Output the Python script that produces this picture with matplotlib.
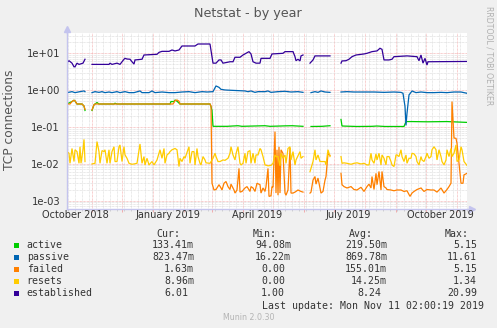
import numpy as np
import pandas as pd
import matplotlib
matplotlib.use('Agg')
import matplotlib.pyplot as plt
import matplotlib.dates as mdates
from matplotlib.ticker import LogLocator, FuncFormatter, NullFormatter
from matplotlib.patches import Rectangle

nan = np.nan

# time axis: 400 days ending Mon Nov 11 2019
start = pd.Timestamp('2018-10-07 12:00')
span_days = 400

# (day offset, value) pairs, nan = gap in data
active = [(0, .42), (5, .49), (7, .53), (8, .51), (10, .42), (15, .42), (17, .37), (18, .28),
          (21, nan), (25, .28), (27, .40), (28, .42), (30, .46), (32, .42), (47, .42), (48, .44),
          (50, .42), (103, .42), (104, .49), (107, .49), (108, .54), (110, .50), (113, .42),
          (143, .42), (144, .36), (145, .28), (146, .104), (160, .104), (171, .108), (175, .104),
          (198, .108), (203, .104), (218, .107), (225, .108), (236, .104), (239, nan), (244, .103),
          (255, .104), (263, .108), (267, nan), (274, .16), (275, .106), (290, .103), (305, .104),
          (310, .106), (318, .103), (337, .103), (339, .14), (345, .14), (360, .138), (380, .14),
          (400, .133)]

passive = [(0, .855), (5, .91), (8, .855), (13, .91), (17, .95), (18, .91), (21, nan), (25, .855),
           (28, .91), (32, .87), (35, .91), (38, .855), (42, .89), (45, .855), (50, .91), (53, .855),
           (58, .91), (62, .855), (67, .855), (73, .95), (75, .855), (82, .855), (85, .95), (88, .855),
           (95, .89), (102, .855), (108, .855), (115, .89), (122, .91), (128, .855), (135, .91),
           (140, .89), (146, .91), (149, 1.30), (152, 1.19), (154, 1.05), (158, 1.01), (164, .99),
           (171, .97), (178, .95), (181, .91), (184, .95), (188, .87), (191, .91), (198, .91),
           (201, .95), (204, .87), (211, .91), (218, .93), (224, .89), (231, .91), (236, .87),
           (239, nan), (244, .855), (248, .91), (251, .87), (254, .95), (258, .89), (263, .87),
           (267, nan), (274, .89), (280, .91), (287, .89), (294, .89), (300, .89), (307, .89),
           (317, .87), (327, .89), (334, .87), (336, .82), (338, .36), (339, .11), (340, .235),
           (342, .74), (344, .87), (345, .95), (349, .855), (354, .89), (360, .855), (367, .855),
           (374, .87), (380, .855), (387, .89), (394, .89), (400, .82)]

failed = [(0, .42), (3, .42), (5, .49), (7, .53), (8, .51), (10, .42), (15, .42), (17, .37), (18, .30),
          (21, nan), (25, .29), (27, .40), (28, .42), (106, .42), (107, .46), (108, .52), (110, .54),
          (112, .50), (113, .42), (143, .42), (144, .37), (145, 2.96e-3), (147, 1.94e-3),
          (149, 2.0e-3), (152, 2.7e-3), (154, 2.2e-3), (155, 1.94e-3), (157, 2.96e-3), (159, 3.3e-3),
          (161, 2.4e-3), (163, 2.0e-3), (164, 2.8e-3), (167, 1.94e-3), (168, 1.6e-3), (170, 1.94e-3),
          (172, 7.5e-3), (173, 1.7e-3), (175, 1.77e-3), (178, 2.2e-3), (180, 2.4e-3), (183, 1.77e-3),
          (184, 2.4e-3), (186, 2.2e-3), (188, 1.77e-3), (190, 2.96e-3), (193, 2.7e-3), (194, 1.6e-3),
          (196, 2.2e-3), (198, 1.77e-3), (199, 2.4e-3), (201, 7.5e-3), (202, 1.3e-3), (204, 1.35e-3),
          (205, 2.4e-3), (206, 2.3e-3), (208, .075), (209, 1.6e-3), (210, .024), (211, 1.4e-3),
          (212, .029), (213, 1.6e-3), (214, .024), (216, .019), (218, 1.6e-3), (219, 1.4e-3),
          (221, 1.94e-3), (223, .027), (224, 1.6e-3), (226, 1.6e-3), (228, 1.7e-3), (231, 1.94e-3),
          (234, 1.77e-3), (236, 1.7e-3), (239, nan), (243, 1.6e-3), (244, 1.7e-3), (246, 3.6e-3),
          (248, 4.5e-3), (249, 2.8e-3), (251, 4.1e-3), (253, 2.2e-3), (254, 1.6e-3), (256, 1.77e-3),
          (258, 3.6e-3), (259, 4.5e-3), (261, .019), (263, .017), (267, nan), (274, 5.5e-3),
          (275, 2.7e-3), (277, 2.4e-3), (280, 2.2e-3), (284, 2.4e-3), (287, 2.0e-3), (290, 1.94e-3),
          (294, 2.3e-3), (297, 1.77e-3), (300, 2.4e-3), (302, 2.8e-3), (304, 2.2e-3), (305, 4.5e-3),
          (307, 2.0e-3), (309, 5.5e-3), (310, 2.7e-3), (312, 6.2e-3), (314, 1.94e-3), (315, 6.2e-3),
          (317, 2.4e-3), (319, 2.2e-3), (320, 2.0e-3), (324, 1.94e-3), (327, 1.85e-3), (330, 1.94e-3),
          (334, 1.94e-3), (337, 1.77e-3), (340, 1.85e-3), (343, 1.3e-3), (345, 1.6e-3), (347, 1.77e-3),
          (350, 2.0e-3), (354, 2.2e-3), (357, 1.77e-3), (360, 2.0e-3), (364, 1.94e-3), (367, 1.94e-3),
          (370, 1.7e-3), (374, 2.2e-3), (377, 1.6e-3), (380, 2.0e-3), (382, 2.4e-3), (384, 2.96e-3),
          (385, .49), (387, .05), (389, .049), (390, .036), (392, .0104), (394, 2.96e-3),
          (396, 2.96e-3), (397, 5.0e-3), (400, 5.5e-3)]

resets = [(0, .0214), (2, .0193), (3, .0103), (5, .026), (7, .0115), (8, .024), (10, .0214), (12, .0103),
          (13, .029), (14, .0103), (16, .024), (17, .046), (18, .0115), (21, nan), (25, .0099),
          (28, .0103), (30, .040), (32, .0214), (33, .0103), (35, .0228), (37, .0214), (38, .024),
          (40, .0103), (42, .024), (43, .0103), (45, .0214), (47, .029), (48, .0115), (50, .0115),
          (52, .029), (53, .0325), (55, .0115), (57, .029), (58, .0174), (60, .0141), (62, .0103),
          (65, .0097), (67, .0099), (70, .0103), (73, .0345), (75, .0103), (77, .0157), (78, .0093),
          (80, .0141), (82, .0093), (85, .0115), (87, .0093), (90, .0127), (93, .024), (95, .0141),
          (97, .026), (98, .0103), (100, .0174), (102, .0193), (103, .0214), (105, .024), (108, .026),
          (110, .024), (112, .0084), (113, .0141), (115, .0115), (117, .0157), (118, .0141),
          (122, .029), (123, .0103), (125, .0214), (127, .0214), (128, .0093), (130, .026),
          (131, .0157), (133, .0103), (134, .0093), (136, .0157), (138, .0127), (139, .0106),
          (143, .0103), (146, .0141), (148, .0193), (149, .0157), (151, .0115), (153, .0115),
          (156, .0127), (158, .0124), (161, .0141), (163, .0193), (164, .029), (166, .0174),
          (168, .0127), (169, .0186), (171, .029), (173, .0103), (174, .0093), (176, .0103),
          (178, .0193), (179, .0103), (181, .0214), (183, .0228), (184, .0103), (186, .0193),
          (188, .0103), (189, .0174), (191, .0174), (193, .026), (194, .024), (196, .0157),
          (198, .0093), (201, .0088), (204, .0090), (206, .0103), (208, .0174), (209, .0157),
          (211, .0157), (213, .0088), (214, .0193), (216, .0141), (218, .0174), (219, .0103),
          (221, .026), (223, .029), (224, .0127), (226, .0214), (228, .0093), (229, .0127),
          (233, .0214), (234, .0141), (236, .0157), (239, nan), (243, .0061), (244, .0075),
          (246, .0115), (248, .024), (249, .0127), (251, .0174), (253, .0115), (255, .0115),
          (258, .0115), (259, .0093), (261, .024), (263, .0157), (267, nan), (274, .0157),
          (275, .0103), (277, .0106), (280, .0103), (284, .0097), (287, .0103), (290, .0106),
          (294, .0099), (297, .0103), (300, .0093), (302, .0093), (304, .0193), (305, .0127),
          (307, .0103), (309, .0186), (310, .0127), (312, .0193), (314, .0093), (315, .0174),
          (317, .0141), (319, .0093), (320, .0157), (322, .0157), (324, .0115), (325, .0093),
          (327, .0084), (329, .0174), (330, .0174), (332, .0157), (334, .024), (335, .0157),
          (337, .0115), (339, .0174), (340, .0103), (342, .0141), (344, .0141), (345, .0193),
          (347, .0186), (349, .0157), (350, .0115), (352, .0093), (354, .0157), (355, .0127),
          (357, .0115), (359, .0157), (360, .0193), (362, .0141), (364, .0157), (365, .024),
          (367, .029), (369, .024), (370, .0127), (372, .024), (374, .0157), (375, .0115),
          (377, .0093), (379, .0127), (380, .024), (382, .0157), (384, .026), (385, .0157),
          (387, .0193), (389, .0325), (390, .0115), (392, .0127), (394, .029), (395, .024),
          (397, .0115), (400, .0090)]

established = [(0, 5.6), (2, 6.3), (5, 5.4), (7, 4.3), (8, 4.3), (10, 5.4), (12, 5.0), (16, 5.4),
               (18, 6.9), (21, nan), (25, 5.0), (42, 5.0), (43, 5.4), (45, 5.0), (50, 5.4), (53, 5.0),
               (57, 6.9), (58, 7.3), (60, 7.0), (63, 6.9), (65, 5.9), (67, 5.1), (68, 6.6), (75, 6.9),
               (77, 9.0), (90, 9.4), (92, 10.6), (95, 11.3), (102, 11.3), (105, 12.3), (108, 11.6),
               (112, 12.3), (115, 15.8), (128, 15.8), (130, 17.2), (131, 17.9), (143, 17.9),
               (146, 5.4), (149, 5.4), (152, 6.6), (154, 6.6), (156, 5.4), (159, 5.6), (163, 5.9),
               (166, 5.9), (168, 7.8), (173, 7.8), (176, 9.0), (179, 10.0), (182, 11.1), (184, 9.6),
               (186, 5.9), (189, 5.4), (193, 5.4), (194, 7.3), (203, 7.3), (205, 9.6), (216, 10.0),
               (218, 11.1), (226, 11.1), (228, 8.1), (229, 6.3), (231, 6.9), (233, 6.2), (234, 8.5),
               (236, 9.0), (239, nan), (243, 5.4), (246, 6.6), (248, 8.5), (263, 8.5), (267, nan),
               (274, 5.4), (275, 6.2), (279, 6.3), (282, 6.9), (285, 8.1), (289, 9.0), (297, 9.6),
               (300, 10.0), (305, 11.1), (310, 11.6), (313, 13.7), (315, 12.8), (317, 6.6), (322, 6.6),
               (325, 6.9), (327, 8.1), (340, 8.5), (350, 8.1), (352, 6.3), (354, 9.0), (356, 5.4),
               (358, 7.3), (360, 4.8), (361, 5.9), (400, 6.01)]

names = ['active', 'passive', 'failed', 'resets', 'established']
colors = ['#00CC00', '#0066B3', '#FF8000', '#FFCC00', '#330099']
cur = ['133.41m', '823.47m', '1.63m', '8.96m', '6.01']
mins = ['94.08m', '16.22m', '0.00', '0.00', '1.00']
avgs = ['219.50m', '869.78m', '155.01m', '14.25m', '8.24']
maxs = ['5.15', '11.61', '5.15', '1.34', '20.99']
month_labels = ['October 2018', 'January 2019', 'April 2019', 'July 2019', 'October 2019']
month_label_dates = ['2018-10-16', '2019-01-16', '2019-04-16', '2019-07-16', '2019-10-16']

W, H = 497, 328
fig = plt.figure(figsize=(W / 100, H / 100), dpi=100, facecolor='#F0F0F0')
ax = fig.add_axes([67 / W, 1 - 208.5 / H, 400 / W, 175.5 / H])
ax.set_facecolor('white')


def px(x, y):
    return x / W, 1 - y / H


# series
for series, c in zip([active, passive, failed, resets, established], colors):
    arr = np.array(series, dtype=float)
    dates = start + pd.to_timedelta(arr[:, 0], unit='D')
    ax.plot(dates, arr[:, 1], color=c, lw=0.9, solid_joinstyle='miter')

ax.set_yscale('log')
ax.set_ylim(6.1e-4, 35.6)
ax.set_xlim(start, start + pd.Timedelta(days=span_days))

# grid
ax.xaxis.set_major_locator(mdates.MonthLocator())
ax.xaxis.set_minor_locator(mdates.WeekdayLocator(byweekday=mdates.MO))
ax.xaxis.set_major_formatter(NullFormatter())
ax.xaxis.set_minor_formatter(NullFormatter())
ax.yaxis.set_major_locator(LogLocator(base=10, numticks=20))
ax.yaxis.set_minor_locator(LogLocator(base=10, subs=np.arange(2, 10), numticks=20))
ax.yaxis.set_major_formatter(FuncFormatter(lambda v, p: f'{v:.0e}'))
ax.yaxis.set_minor_formatter(NullFormatter())
ax.grid(which='minor', color='#d4d4d4', linestyle=(0, (1, 1)), lw=0.5)
ax.grid(which='major', color='#f2a0a0', linestyle=(0, (1, 1)), lw=0.5)
ax.set_axisbelow(True)

ax.tick_params(axis='x', which='major', length=2, color='#f2a0a0', width=0.6)
ax.tick_params(axis='x', which='minor', length=1.5, color='#c8c8c8', width=0.6)
ax.tick_params(axis='y', which='both', length=0, pad=5, labelsize=7.2, labelcolor='#333333')

for s in ['top', 'right']:
    ax.spines[s].set_visible(False)
for s in ['left', 'bottom']:
    ax.spines[s].set_color('#c4c4ee')
    ax.spines[s].set_linewidth(1)

# axis arrows
axc = '#c4c4ee'
ax.plot([0, 0], [1, 1.025], color=axc, lw=1, transform=ax.transAxes, clip_on=False)
ax.plot([0], [1.025], marker='^', ms=4, color=axc, transform=ax.transAxes, clip_on=False)
ax.plot([1, 1.012], [0, 0], color=axc, lw=1, transform=ax.transAxes, clip_on=False)
ax.plot([1.012], [0], marker='>', ms=4, color=axc, transform=ax.transAxes, clip_on=False)

# month labels
for lab, d in zip(month_labels, month_label_dates):
    ax.text(pd.Timestamp(d), -0.037, lab, transform=ax.get_xaxis_transform(),
            ha='center', va='center', fontsize=7, color='#333333')

# titles
fig.text(*px(248, 13), 'Netstat - by year', ha='center', va='center', fontsize=9.2, color='#555555')
fig.text(*px(10, 120), 'TCP connections', rotation=90, ha='center', va='center',
         fontsize=8.8, color='#555555')
fig.text(*px(489, 56), 'RRDTOOL / TOBI OETIKER', rotation=270, ha='center', va='center',
         fontsize=5.6, color='#b0b0b0')

# legend table
mono = dict(family='DejaVu Sans Mono', fontsize=7.1, color='#333333', va='center')
for x, h in zip([180, 277, 373, 469], ['Cur:', 'Min:', 'Avg:', 'Max:']):
    fig.text(*px(x, 234), h, ha='right', **mono)

row_y = [245.3, 257.5, 269.5, 281.5, 293.3]
for i, y in enumerate(row_y):
    fig.patches.append(Rectangle(px(14, y + 2.6), 5.4 / W, 5.4 / H, transform=fig.transFigure,
                                 facecolor=colors[i], edgecolor='none'))
    fig.text(*px(26.7, y), names[i], ha='left', **mono)
    for right, vals in zip([194, 291, 387], [cur, mins, avgs]):
        v = vals[i]
        xr = right if v.endswith('m') else right - 6
        fig.text(*px(xr, y), v, ha='right', **mono)
    fig.text(*px(477, y), maxs[i], ha='right', **mono)

fig.text(*px(262, 305.7), 'Last update: Mon Nov 11 02:00:19 2019', ha='left', **mono)
fig.text(*px(249, 317.5), 'Munin 2.0.30', ha='center', va='center', fontsize=5.7, color='#b4b4b4')

fig.savefig('out.png', dpi=100, facecolor=fig.get_facecolor())
